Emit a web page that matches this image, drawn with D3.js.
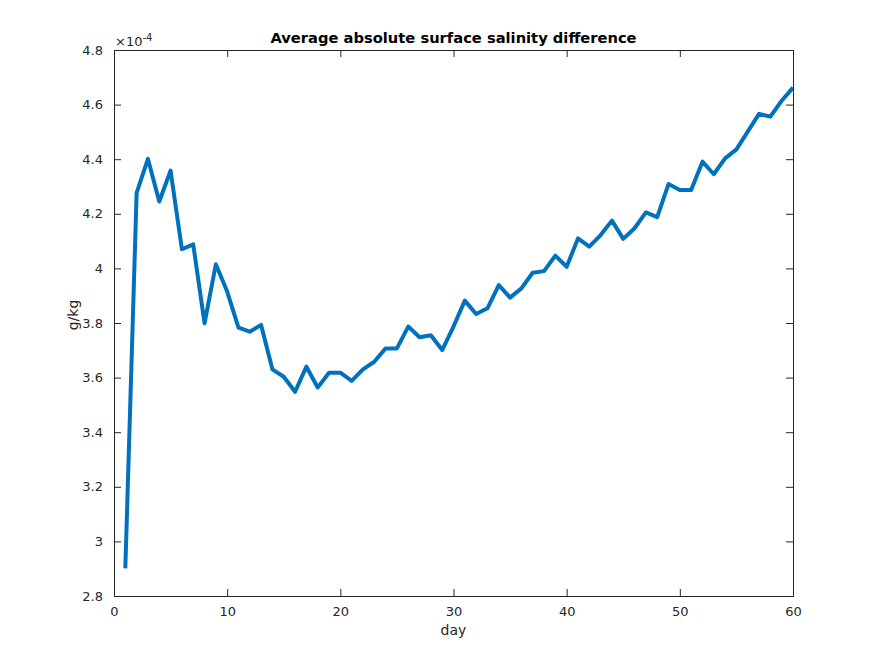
<!DOCTYPE html>
<html>
<head>
<meta charset="utf-8">
<script src="https://cdn.jsdelivr.net/npm/d3@7"></script>
<style>
body{margin:0;background:#fff;}
text{font-family:"DejaVu Sans",sans-serif;}
</style>
</head>
<body>
<svg id="chart" width="877" height="671"></svg>
<script>
const days = d3.range(1, 61);
const salinity = [
 2.901, 4.277, 4.401, 4.245, 4.358, 4.070, 4.088, 3.799, 4.015, 3.915,
 3.783, 3.768, 3.793, 3.630, 3.603, 3.548, 3.640, 3.564, 3.618, 3.618,
 3.588, 3.630, 3.658, 3.707, 3.707, 3.787, 3.748, 3.755, 3.701, 3.787,
 3.882, 3.833, 3.854, 3.939, 3.893, 3.927, 3.984, 3.990, 4.047, 4.006,
 4.110, 4.080, 4.122, 4.175, 4.108, 4.147, 4.205, 4.188, 4.309, 4.287,
 4.287, 4.391, 4.345, 4.403, 4.436, 4.501, 4.566, 4.556, 4.614, 4.662
];
const xTicks = [0, 10, 20, 30, 40, 50, 60];
const yTicks = [2.8, 3, 3.2, 3.4, 3.6, 3.8, 4, 4.2, 4.4, 4.6, 4.8];
const titleText = "Average absolute surface salinity difference";
const xLabel = "day";
const yLabel = "g/kg";

const svg = d3.select("#chart");
const L = 114, R = 793, T = 50, B = 596;
const x = d3.scaleLinear().domain([0, 60]).range([L, R]);
const y = d3.scaleLinear().domain([2.8, 4.8]).range([B, T]);
const axisColor = "#262626";

// line
svg.append("path")
  .datum(days.map((d, i) => [d, salinity[i]]))
  .attr("fill", "none")
  .attr("stroke", "#0072BD")
  .attr("stroke-width", 4)
  .attr("stroke-linejoin", "round")
  .attr("d", d3.line().x(d => x(d[0])).y(d => y(d[1])));

function styleAxis(g){
  g.select(".domain").remove();
  g.selectAll("line").attr("stroke", axisColor);
  g.selectAll("text").attr("fill", axisColor).style("font-size", "13px")
    .style("font-family", "DejaVu Sans, sans-serif");
}
const fmtY = d => d3.format("")(+d.toFixed(1));

svg.append("g").attr("transform", `translate(0,${B})`)
  .call(d3.axisBottom(x).tickValues(xTicks).tickSize(-7).tickPadding(11))
  .call(styleAxis);
svg.append("g").attr("transform", `translate(0,${T})`)
  .call(d3.axisTop(x).tickValues(xTicks).tickSize(-7).tickFormat(""))
  .call(styleAxis);
svg.append("g").attr("transform", `translate(${L},0)`)
  .call(d3.axisLeft(y).tickValues(yTicks).tickSize(-7).tickPadding(11).tickFormat(fmtY))
  .call(styleAxis);
svg.append("g").attr("transform", `translate(${R},0)`)
  .call(d3.axisRight(y).tickValues(yTicks).tickSize(-7).tickFormat(""))
  .call(styleAxis);

// box
svg.append("rect").attr("x", L).attr("y", T).attr("width", R - L).attr("height", B - T)
  .attr("fill", "none").attr("stroke", axisColor).attr("stroke-width", 1)
  .attr("shape-rendering", "crispEdges");

// exponent
const ex = svg.append("text").attr("x", L + 1).attr("y", 46)
  .attr("fill", axisColor).style("font-size", "13px");
ex.append("tspan").text("×10");
ex.append("tspan").attr("dy", -5).style("font-size", "10px").text("-4");

// title
svg.append("text").attr("x", (L + R) / 2).attr("y", 43).attr("text-anchor", "middle")
  .style("font-size", "14.7px").style("font-weight", "bold").attr("fill", "#000")
  .text(titleText);

// labels
svg.append("text").attr("x", (L + R) / 2).attr("y", 635).attr("text-anchor", "middle")
  .style("font-size", "14px").attr("fill", axisColor).text(xLabel);
svg.append("text").attr("transform", `translate(78,${(T + B) / 2 - 8}) rotate(-90)`)
  .attr("text-anchor", "middle").style("font-size", "14px").attr("fill", axisColor).text(yLabel);
</script>
</body>
</html>
